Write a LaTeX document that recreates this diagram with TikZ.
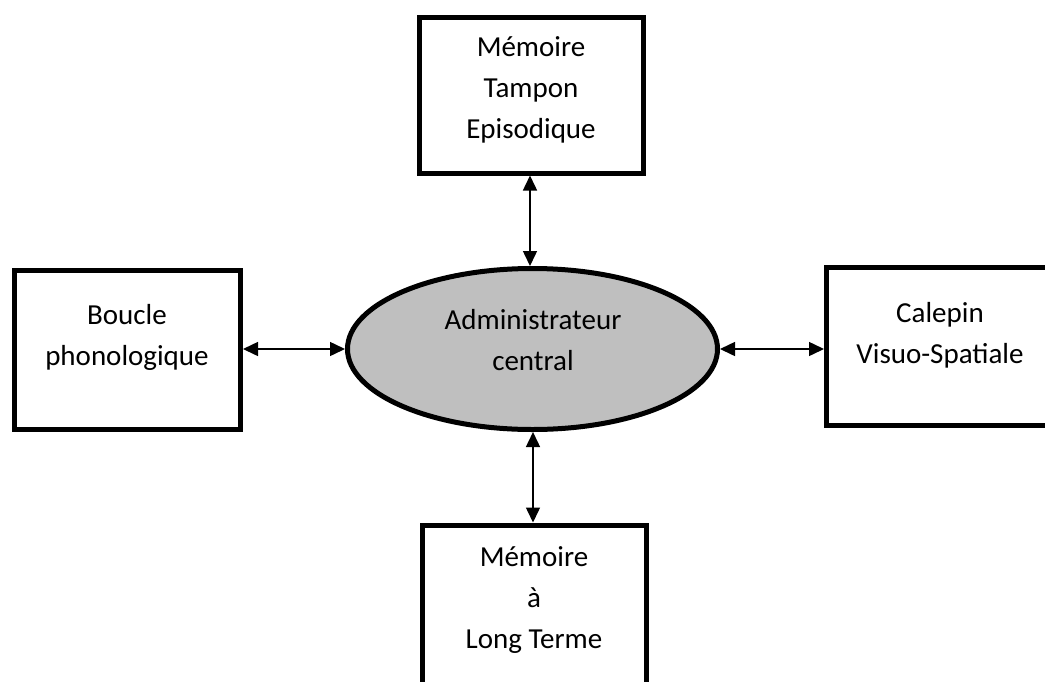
\documentclass[tikz,border=0pt]{standalone}
\usepackage{fontspec}
\setmainfont{Carlito}
\usetikzlibrary{arrows.meta,shapes.geometric}
\definecolor{fillgray}{RGB}{191,191,191}

\begin{document}
\begin{tikzpicture}[x=1pt,y=-1pt,
  box/.style={draw, line width=5pt, inner sep=0pt, rectangle},
  central/.style={draw, line width=5pt, inner sep=0pt, ellipse, fill=fillgray},
  lbl/.style={font=\fontsize{29}{41}\selectfont, align=center, inner sep=0pt, anchor=base},
  conn/.style={line width=1.5pt,
    {Triangle[length=15pt,width=14pt]}-{Triangle[length=15pt,width=14pt]}}]

  \useasboundingbox (0,0) rectangle (1045,681);
  \clip (0,0) rectangle (1045,681);

  % components of the working-memory model
  \node[box, minimum width=224pt, minimum height=156pt] (tampon) at (531,95) {};
  \node[box, minimum width=226pt, minimum height=159pt] (boucle) at (127.5,350) {};
  \node[box, minimum width=235pt, minimum height=158pt] (calepin) at (944,346.5) {};
  \node[box, minimum width=224pt, minimum height=160pt] (mlt) at (534,605) {};
  \node[central, minimum width=370pt, minimum height=161pt] (admin) at (532.5,349) {};

  % labels (anchored on the baseline of their last line)
  \node[lbl] (tTampon) at (531,138) {Mémoire\\Tampon\\Episodique};
  \node[lbl] (tBoucle) at (127,365) {Boucle\\phonologique};
  \node[lbl] (tAdmin) at (533,370) {Administrateur\\central};
  \node[lbl] (tCalepin) at (940,363) {Calepin\\Visuo-Spatiale};
  \node[lbl] (tMlt) at (534,648) {Mémoire\\à\\Long Terme};

  % two-way links with the central executive
  \draw[conn] (tampon.south -| 530,0) -- (admin.north -| 530,0);
  \draw[conn] (admin.south -| 533,0) -- (mlt.north -| 533,0);
  \draw[conn] (boucle.east |- 0,349) -- (admin.west);
  \draw[conn] (admin.east) -- (calepin.west |- 0,349);
\end{tikzpicture}
\end{document}
